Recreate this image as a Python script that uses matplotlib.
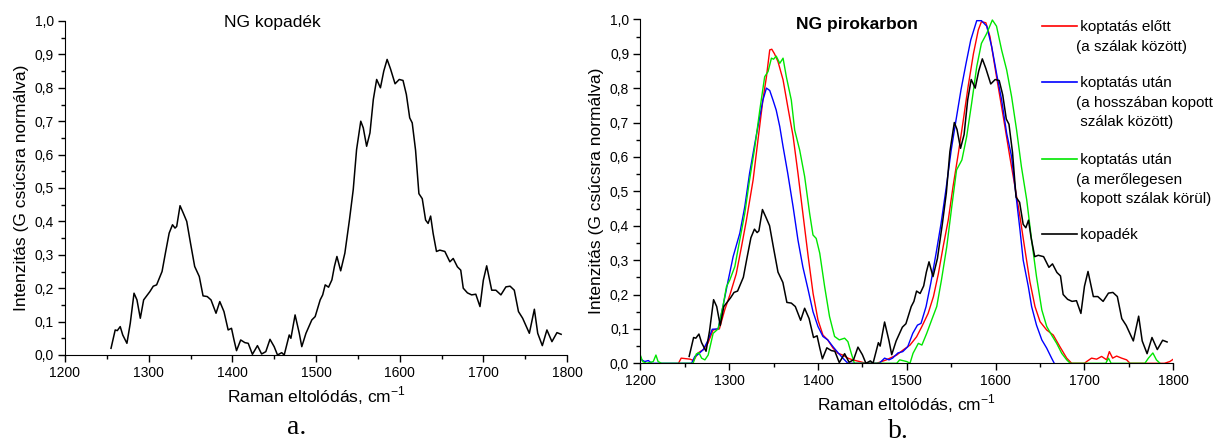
import matplotlib
matplotlib.use("Agg")
import matplotlib.pyplot as plt
from matplotlib.ticker import MultipleLocator, FuncFormatter
from matplotlib.lines import Line2D

plt.rcParams['font.family'] = ['Liberation Sans', 'DejaVu Sans']
plt.rcParams['mathtext.fontset'] = 'custom'
plt.rcParams['mathtext.rm'] = 'Liberation Sans'

# kopadék (black), same curve in both panels
kop_x = [1255, 1260, 1262.5, 1266, 1269, 1274, 1278, 1282.5, 1286, 1290, 1294, 1301.5, 1305.5,
         1309.5, 1316, 1320, 1324.5, 1328.5, 1331.5, 1333.5, 1337.5, 1341.5, 1345.5, 1350, 1355,
         1360.5, 1365, 1370, 1374.5, 1380.5, 1385, 1390, 1395, 1399, 1402, 1405, 1410, 1415, 1419,
         1424, 1430, 1435, 1440, 1445, 1450, 1454, 1459, 1462, 1468, 1470, 1475, 1480, 1483, 1488,
         1495, 1499, 1505, 1508, 1511, 1515, 1519, 1522, 1525, 1529.5, 1534.5, 1540, 1544.5, 1548.5,
         1553.5, 1556.5, 1560.5, 1564.5, 1568.5, 1572.5, 1577, 1581, 1585, 1589, 1594.5, 1599.5,
         1604, 1608, 1612, 1615, 1619, 1623, 1627, 1631, 1634, 1637, 1640, 1644, 1648, 1654, 1660,
         1664, 1669, 1673, 1676, 1681, 1686, 1691, 1696, 1700, 1704, 1710, 1715, 1721, 1727, 1732,
         1737, 1742, 1747, 1755, 1761, 1765, 1770.5, 1776, 1782, 1788, 1793]
kop_y = [0.02, 0.075, 0.073, 0.085, 0.06, 0.035, 0.095, 0.185, 0.165, 0.11, 0.165, 0.19, 0.206,
         0.21, 0.25, 0.305, 0.365, 0.39, 0.38, 0.385, 0.447, 0.424, 0.40, 0.335, 0.265,
         0.235, 0.177, 0.175, 0.165, 0.125, 0.16, 0.13, 0.075, 0.08, 0.045, 0.013, 0.045, 0.037, 0.035,
         0.002, 0.028, 0.003, 0.01, 0.047, 0.025, 0.0, 0.007, 0.0, 0.06, 0.05, 0.12, 0.065, 0.025, 0.065,
         0.105, 0.115, 0.165, 0.18, 0.21, 0.203, 0.225, 0.265, 0.295, 0.252, 0.305, 0.405, 0.495, 0.615,
         0.70, 0.68, 0.625, 0.665, 0.765, 0.825, 0.80, 0.85, 0.885, 0.857, 0.812, 0.825,
         0.822, 0.78, 0.71, 0.695, 0.613, 0.483, 0.468, 0.404, 0.394, 0.416, 0.364, 0.31, 0.314, 0.31, 0.279,
         0.289, 0.264, 0.254, 0.2, 0.186, 0.18, 0.182, 0.145, 0.224, 0.267, 0.194, 0.194, 0.18, 0.204, 0.206,
         0.194, 0.13, 0.11, 0.065, 0.137, 0.065, 0.028, 0.075, 0.04, 0.067, 0.062]

# koptatás előtt (red)
elott_x = [1243, 1246, 1256, 1260, 1265, 1271, 1276, 1282, 1289, 1295, 1301, 1308, 1314, 1319.5,
           1327, 1332.5, 1338, 1342, 1345.7, 1348, 1351, 1355, 1360.7, 1366, 1372, 1377.5, 1383,
           1389, 1394.5, 1400, 1405.6, 1411, 1417, 1422.5, 1428, 1433.7, 1439, 1447, 1454, 1466,
           1477, 1488.6, 1496, 1503.6, 1511, 1516.8, 1524, 1530, 1535.5, 1541, 1546.7, 1552, 1558,
           1563.6, 1569, 1575, 1580.5, 1584, 1589, 1593.6, 1601, 1608.6, 1616, 1621.8, 1627.4, 1633,
           1638.6, 1644.3, 1650, 1657.4, 1664.9, 1672.4, 1680, 1685.6, 1700, 1702.4, 1708, 1713.7,
           1719.3, 1725, 1728, 1731.7, 1736.2, 1741.8, 1747.5, 1751.2, 1790, 1796, 1800]
elott_y = [0.0, 0.015, 0.012, 0.008, 0.03, 0.04, 0.058, 0.097, 0.10, 0.155, 0.20, 0.26, 0.34, 0.417,
           0.533, 0.65, 0.765, 0.833, 0.911, 0.913, 0.90, 0.877, 0.824, 0.746, 0.66, 0.552, 0.436,
           0.31, 0.203, 0.126, 0.082, 0.068, 0.044, 0.029, 0.024, 0.015, 0.01, 0.005, 0.0, 0.0,
           0.01, 0.024, 0.039, 0.053, 0.077, 0.106, 0.145, 0.194, 0.26, 0.34, 0.417, 0.513, 0.61,
           0.707, 0.804, 0.90, 0.969, 0.993, 0.99, 0.95, 0.833, 0.717, 0.60, 0.513, 0.426, 0.33,
           0.237, 0.165, 0.121, 0.097, 0.082, 0.048, 0.015, 0.0, 0.0, 0.005, 0.015, 0.012,
           0.02, 0.01, 0.034, 0.015, 0.021, 0.015, 0.01, 0.0, 0.0, 0.005, 0.012]

# koptatás után, hosszában kopott (blue)
hossz_x = [1200, 1201.5, 1205, 1209, 1213, 1257.7, 1261.4, 1265, 1271, 1276.4, 1281, 1287.6, 1293,
           1299, 1304.5, 1312, 1317.6, 1323, 1329, 1334.5, 1338, 1342, 1345.7, 1349.4, 1353, 1357,
           1360.7, 1366, 1372, 1377.5, 1383, 1389, 1394.4, 1400, 1405.6, 1411, 1417, 1422.5, 1428,
           1433.7, 1469, 1475, 1480, 1484, 1490, 1495.5, 1501, 1506.7, 1512, 1516, 1521.7, 1527,
           1533, 1538.6, 1544, 1550, 1555.4, 1561, 1566.7, 1572, 1578.7, 1584, 1590, 1595.6, 1601,
           1606.8, 1612.4, 1618, 1621.8, 1627.4, 1631, 1636.8, 1640.5, 1646, 1652, 1657.5, 1663, 1666]
hossz_y = [0.02, 0.01, 0.005, 0.008, 0.0, 0.0, 0.02, 0.026, 0.04, 0.068, 0.099, 0.10, 0.165,
           0.242, 0.31, 0.378, 0.455, 0.552, 0.64, 0.717, 0.765, 0.80, 0.793, 0.765, 0.736, 0.688,
           0.63, 0.552, 0.455, 0.358, 0.28, 0.213, 0.15, 0.107, 0.078, 0.068, 0.048, 0.031, 0.015,
           0.0, 0.0, 0.015, 0.01, 0.015, 0.03, 0.034, 0.048, 0.087, 0.111, 0.116, 0.165, 0.233,
           0.32, 0.407, 0.504, 0.62, 0.707, 0.795, 0.872, 0.94, 0.996, 0.996, 0.98, 0.92, 0.843,
           0.765, 0.669, 0.60, 0.513, 0.388, 0.30, 0.223, 0.165, 0.111, 0.068, 0.044, 0.015, 0.0]

# koptatás után, merőlegesen kopott (green)
mero_x = [1200, 1202.6, 1207, 1214.6, 1217.6, 1220, 1224, 1259.5, 1263, 1266, 1269, 1272.7, 1276.4,
          1282, 1287.6, 1293, 1297, 1300.7, 1306.4, 1312, 1317.6, 1323, 1329, 1334.5, 1340, 1343.8,
          1347.6, 1350, 1353, 1357, 1360.7, 1364.4, 1370, 1373.8, 1379.4, 1385, 1390.6, 1394.4, 1398,
          1402, 1407.5, 1413, 1418.7, 1424, 1430, 1433.7, 1437.5, 1441, 1488.6, 1492, 1500, 1503.6,
          1507, 1513, 1517, 1522.4, 1528, 1533.7, 1539, 1545, 1550.6, 1556, 1562, 1567.4, 1573,
          1578.7, 1584, 1590, 1596.3, 1601, 1606.8, 1612.4, 1618, 1623.6, 1629, 1635, 1640.5, 1646,
          1652, 1657.5, 1663, 1668.7, 1674.4, 1680, 1684, 1724, 1727, 1730, 1768, 1772, 1777, 1781, 1785]
mero_y = [0.024, 0.005, 0.0, 0.005, 0.024, 0.005, 0.0, 0.0, 0.027, 0.031, 0.015, 0.01, 0.024,
          0.087, 0.10, 0.165, 0.223, 0.242, 0.281, 0.359, 0.436, 0.533, 0.63, 0.736, 0.833, 0.848,
          0.887, 0.884, 0.893, 0.872, 0.887, 0.833, 0.765, 0.678, 0.62, 0.543, 0.436, 0.373, 0.363,
          0.32, 0.223, 0.136, 0.078, 0.068, 0.073, 0.063, 0.029, 0.0, 0.0, 0.01, 0.005, 0.0,
          0.029, 0.058, 0.053, 0.087, 0.126, 0.165, 0.242, 0.339, 0.455, 0.562, 0.591, 0.659, 0.756,
          0.862, 0.93, 0.959, 0.998, 0.98, 0.91, 0.853, 0.775, 0.678, 0.572, 0.475, 0.358, 0.252,
          0.155, 0.107, 0.082, 0.058, 0.029, 0.01, 0.0, 0.0, 0.015, 0.0, 0.0, 0.015, 0.03, 0.01, 0.0]

legend_labels = [" koptatás előtt\n(a szálak között)",
                 " koptatás után\n(a hosszában kopott\n szálak között)",
                 " koptatás után\n(a merőlegesen\n kopott szálak körül)",
                 " kopadék"]
legend_colors = ['#ff0000', '#0000ff', '#00e600', '#000000']

W, H = 1218, 443
fig = plt.figure(figsize=(W / 100, H / 100), dpi=100)
ax1 = fig.add_axes([65 / W, 1 - 355 / H, 502 / W, 334 / H])
ax2 = fig.add_axes([640.3 / W, 1 - 363.3 / H, 533 / W, 344 / H])

comma = FuncFormatter(lambda v, p: ('%.1f' % v).replace('.', ','))

for ax in (ax1, ax2):
    ax.set_xlim(1200, 1800)
    ax.set_ylim(0, 1.0)
    ax.xaxis.set_major_locator(MultipleLocator(100))
    ax.xaxis.set_minor_locator(MultipleLocator(50))
    ax.yaxis.set_major_locator(MultipleLocator(0.1))
    ax.yaxis.set_minor_locator(MultipleLocator(0.05))
    ax.yaxis.set_major_formatter(comma)
    ax.spines['top'].set_visible(False)
    ax.spines['right'].set_visible(False)
    ax.tick_params(which='major', length=5, width=1, labelsize=10, direction='out', pad=3)
    ax.tick_params(which='minor', length=3, width=1)
    ax.set_xlabel('Raman eltolódás, cm$^{\\mathrm{-1}}$', fontsize=12.5, labelpad=3)
    ax.set_ylabel('Intenzitás (G csúcsra normálva)', fontsize=12.5, labelpad=4)

ax1.plot(kop_x, kop_y, color='black', lw=1.1)

ax2.plot(elott_x, elott_y, color=legend_colors[0], lw=1.0)
ax2.plot(hossz_x, hossz_y, color=legend_colors[1], lw=1.0)
ax2.plot(mero_x, mero_y, color=legend_colors[2], lw=1.0)
ax2.plot(kop_x, kop_y, color=legend_colors[3], lw=1.1)

fig.text(272 / W, 1 - 23 / H, 'NG kopadék', ha='center', va='center', fontsize=12.5)
fig.text(857 / W, 1 - 24 / H, 'NG pirokarbon', ha='center', va='center', fontsize=12.5,
         fontweight='bold')

# legend drawn by hand to the right of panel b
leg_y = [26, 82, 159, 234]
for lab, col, yy in zip(legend_labels, legend_colors, leg_y):
    fig.add_artist(Line2D([1042 / W, 1077 / W], [1 - yy / H, 1 - yy / H], color=col, lw=1.2))
    for i, line in enumerate(lab.split('\n')):
        fig.text(1076.5 / W, 1 - (yy + 1 + 19.5 * i) / H, line, ha='left', va='center',
                 fontsize=11)

fig.text(297 / W, 1 - 428 / H, 'a.', ha='center', va='center', fontsize=20,
         family='Liberation Serif')
fig.text(898 / W, 1 - 432 / H, 'b.', ha='center', va='center', fontsize=20,
         family='Liberation Serif')

fig.savefig('out.png', dpi=100)
